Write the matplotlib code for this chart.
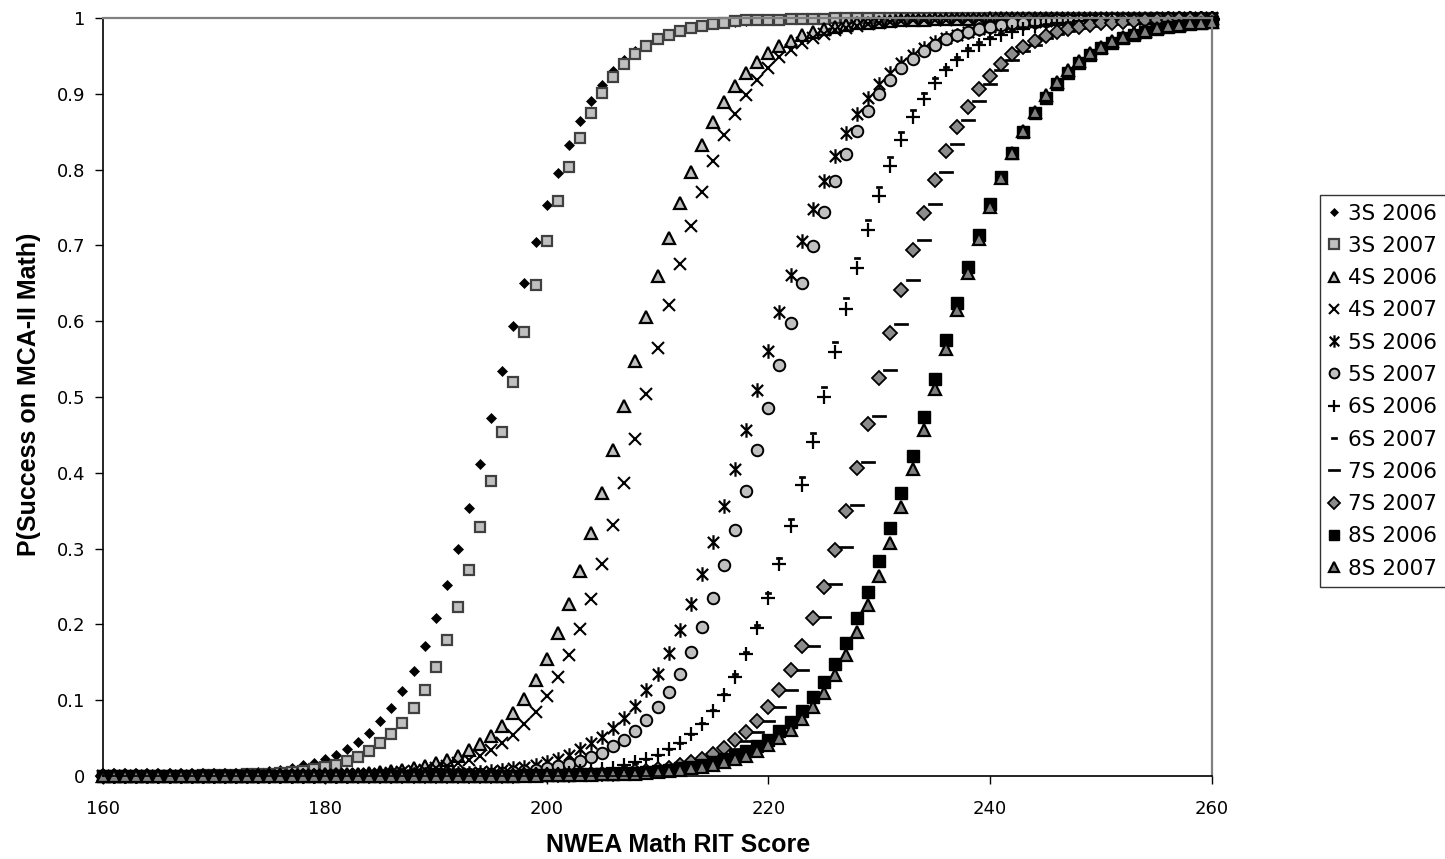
"""P(success on MCA-II Math) against NWEA Math RIT score, one curve per grade and year."""

import matplotlib
matplotlib.use("Agg")
import matplotlib.pyplot as plt
from matplotlib.path import Path

# ─────────────────────────────────────────────────────────────────────────────
# DATA (one point per RIT score)
# ─────────────────────────────────────────────────────────────────────────────

RIT_SCORES = list(range(160, 261))

SERIES_LABELS = ["3S 2006", "3S 2007", "4S 2006", "4S 2007", "5S 2006", "5S 2007",
                 "6S 2006", "6S 2007", "7S 2006", "7S 2007", "8S 2006", "8S 2007"]

P_3S_2006 = [
    0, 0, 0, 0, 0, 0.001, 0.001, 0.001, 0.001, 0.002, 0.002, 0.002, 0.003, 0.004, 0.005, 0.007, 0.008, 0.011, 0.014, 0.017,
    0.022, 0.028, 0.036, 0.045, 0.057, 0.072, 0.090, 0.112, 0.139, 0.171, 0.208, 0.252, 0.300, 0.354, 0.412, 0.472, 0.534, 0.594, 0.651, 0.705,
    0.753, 0.796, 0.833, 0.864, 0.890, 0.912, 0.930, 0.944, 0.956, 0.965, 0.972, 0.978, 0.983, 0.987, 0.989, 0.992, 0.994, 0.995, 0.996, 0.997,
    0.998, 0.998, 0.999, 0.999, 0.999, 0.999, 0.999, 1, 1, 1, 1, 1, 1, 1, 1, 1, 1, 1, 1, 1,
    1, 1, 1, 1, 1, 1, 1, 1, 1, 1, 1, 1, 1, 1, 1, 1, 1, 1, 1, 1,
    1,
]
P_3S_2007 = [
    0, 0, 0, 0, 0, 0, 0, 0, 0, 0.001, 0.001, 0.001, 0.001, 0.002, 0.002, 0.003, 0.004, 0.005, 0.007, 0.009,
    0.012, 0.015, 0.020, 0.025, 0.033, 0.043, 0.055, 0.070, 0.090, 0.114, 0.144, 0.180, 0.223, 0.272, 0.328, 0.389, 0.454, 0.520, 0.586, 0.648,
    0.706, 0.758, 0.804, 0.842, 0.875, 0.901, 0.922, 0.939, 0.953, 0.963, 0.972, 0.978, 0.983, 0.987, 0.990, 0.992, 0.994, 0.996, 0.997, 0.997,
    0.998, 0.998, 0.999, 0.999, 0.999, 0.999, 1, 1, 1, 1, 1, 1, 1, 1, 1, 1, 1, 1, 1, 1,
    1, 1, 1, 1, 1, 1, 1, 1, 1, 1, 1, 1, 1, 1, 1, 1, 1, 1, 1, 1,
    1,
]
P_4S_2006 = [
    0, 0, 0, 0, 0, 0, 0, 0, 0, 0, 0, 0, 0, 0, 0, 0.001, 0.001, 0.001, 0.001, 0.001,
    0.002, 0.002, 0.003, 0.003, 0.004, 0.005, 0.007, 0.008, 0.011, 0.013, 0.017, 0.021, 0.027, 0.034, 0.042, 0.053, 0.066, 0.083, 0.102, 0.126,
    0.155, 0.188, 0.227, 0.271, 0.320, 0.373, 0.430, 0.488, 0.547, 0.605, 0.659, 0.710, 0.756, 0.797, 0.833, 0.863, 0.889, 0.910, 0.927, 0.942,
    0.954, 0.963, 0.970, 0.977, 0.981, 0.985, 0.988, 0.991, 0.993, 0.994, 0.995, 0.996, 0.997, 0.998, 0.998, 0.999, 0.999, 0.999, 0.999, 0.999,
    1, 1, 1, 1, 1, 1, 1, 1, 1, 1, 1, 1, 1, 1, 1, 1, 1, 1, 1, 1,
    1,
]
P_4S_2007 = [
    0, 0, 0, 0, 0, 0, 0, 0, 0, 0, 0, 0, 0, 0, 0, 0, 0, 0, 0.001, 0.001,
    0.001, 0.001, 0.002, 0.002, 0.003, 0.003, 0.004, 0.005, 0.007, 0.008, 0.011, 0.013, 0.017, 0.021, 0.027, 0.034, 0.043, 0.054, 0.068, 0.084,
    0.105, 0.130, 0.159, 0.194, 0.234, 0.280, 0.331, 0.386, 0.444, 0.504, 0.564, 0.622, 0.676, 0.726, 0.771, 0.811, 0.845, 0.874, 0.898, 0.918,
    0.934, 0.948, 0.958, 0.967, 0.974, 0.979, 0.984, 0.987, 0.990, 0.992, 0.994, 0.995, 0.996, 0.997, 0.998, 0.998, 0.998, 0.999, 0.999, 0.999,
    0.999, 1, 1, 1, 1, 1, 1, 1, 1, 1, 1, 1, 1, 1, 1, 1, 1, 1, 1, 1,
    1,
]
P_5S_2006 = [
    0, 0, 0, 0, 0, 0, 0, 0, 0, 0, 0, 0, 0, 0, 0, 0, 0, 0, 0, 0,
    0, 0, 0, 0.001, 0.001, 0.001, 0.001, 0.001, 0.002, 0.002, 0.002, 0.003, 0.004, 0.004, 0.005, 0.007, 0.008, 0.010, 0.012, 0.015,
    0.019, 0.023, 0.028, 0.035, 0.043, 0.052, 0.063, 0.077, 0.093, 0.113, 0.135, 0.162, 0.192, 0.227, 0.266, 0.309, 0.356, 0.405, 0.457, 0.509,
    0.561, 0.612, 0.661, 0.706, 0.748, 0.785, 0.818, 0.848, 0.873, 0.894, 0.913, 0.928, 0.941, 0.951, 0.960, 0.968, 0.974, 0.978, 0.982, 0.986,
    0.988, 0.991, 0.992, 0.994, 0.995, 0.996, 0.997, 0.997, 0.998, 0.998, 0.999, 0.999, 0.999, 0.999, 0.999, 0.999, 1, 1, 1, 1,
    1,
]
P_5S_2007 = [
    0, 0, 0, 0, 0, 0, 0, 0, 0, 0, 0, 0, 0, 0, 0, 0, 0, 0, 0, 0,
    0, 0, 0, 0, 0, 0, 0, 0.001, 0.001, 0.001, 0.001, 0.001, 0.002, 0.002, 0.003, 0.003, 0.004, 0.005, 0.007, 0.008,
    0.010, 0.013, 0.016, 0.020, 0.025, 0.031, 0.039, 0.048, 0.060, 0.074, 0.091, 0.111, 0.135, 0.164, 0.197, 0.235, 0.278, 0.325, 0.376, 0.430,
    0.486, 0.542, 0.597, 0.650, 0.699, 0.744, 0.785, 0.820, 0.851, 0.877, 0.900, 0.918, 0.934, 0.946, 0.957, 0.965, 0.972, 0.977, 0.982, 0.985,
    0.988, 0.991, 0.993, 0.994, 0.995, 0.996, 0.997, 0.998, 0.998, 0.998, 0.999, 0.999, 0.999, 0.999, 0.999, 1, 1, 1, 1, 1,
    1,
]
P_6S_2006 = [
    0, 0, 0, 0, 0, 0, 0, 0, 0, 0, 0, 0, 0, 0, 0, 0, 0, 0, 0, 0,
    0, 0, 0, 0, 0, 0, 0, 0, 0, 0, 0, 0, 0, 0.001, 0.001, 0.001, 0.001, 0.001, 0.002, 0.002,
    0.003, 0.003, 0.004, 0.006, 0.007, 0.009, 0.011, 0.014, 0.018, 0.022, 0.028, 0.035, 0.044, 0.056, 0.069, 0.086, 0.107, 0.131, 0.161, 0.195,
    0.235, 0.280, 0.330, 0.384, 0.441, 0.500, 0.559, 0.616, 0.670, 0.720, 0.765, 0.805, 0.839, 0.869, 0.893, 0.914, 0.931, 0.944, 0.956, 0.965,
    0.972, 0.978, 0.982, 0.986, 0.989, 0.991, 0.993, 0.994, 0.996, 0.997, 0.997, 0.998, 0.998, 0.999, 0.999, 0.999, 0.999, 0.999, 1, 1,
    1,
]
P_6S_2007 = [
    0, 0, 0, 0, 0, 0, 0, 0, 0, 0, 0, 0, 0, 0, 0, 0, 0, 0, 0, 0,
    0, 0, 0, 0, 0, 0, 0, 0, 0, 0, 0, 0, 0, 0, 0.001, 0.001, 0.001, 0.001, 0.002, 0.002,
    0.003, 0.003, 0.004, 0.005, 0.007, 0.009, 0.011, 0.014, 0.017, 0.022, 0.028, 0.035, 0.044, 0.056, 0.070, 0.087, 0.108, 0.134, 0.164, 0.199,
    0.241, 0.287, 0.339, 0.394, 0.453, 0.513, 0.572, 0.630, 0.684, 0.733, 0.777, 0.816, 0.849, 0.878, 0.901, 0.921, 0.936, 0.949, 0.960, 0.968,
    0.975, 0.980, 0.984, 0.988, 0.990, 0.992, 0.994, 0.995, 0.996, 0.997, 0.998, 0.998, 0.999, 0.999, 0.999, 0.999, 0.999, 1, 1, 1,
    1,
]
P_7S_2006 = [
    0, 0, 0, 0, 0, 0, 0, 0, 0, 0, 0, 0, 0, 0, 0, 0, 0, 0, 0, 0,
    0, 0, 0, 0, 0, 0, 0, 0, 0, 0, 0, 0, 0, 0, 0, 0, 0, 0, 0, 0,
    0.001, 0.001, 0.001, 0.001, 0.002, 0.002, 0.003, 0.003, 0.004, 0.005, 0.007, 0.009, 0.011, 0.014, 0.018, 0.022, 0.028, 0.036, 0.046, 0.058,
    0.072, 0.091, 0.113, 0.140, 0.172, 0.210, 0.253, 0.302, 0.357, 0.414, 0.475, 0.536, 0.596, 0.654, 0.707, 0.755, 0.797, 0.834, 0.865, 0.891,
    0.913, 0.931, 0.945, 0.956, 0.965, 0.973, 0.979, 0.983, 0.987, 0.990, 0.992, 0.994, 0.995, 0.996, 0.997, 0.998, 0.998, 0.999, 0.999, 0.999,
    0.999,
]
P_7S_2007 = [
    0, 0, 0, 0, 0, 0, 0, 0, 0, 0, 0, 0, 0, 0, 0, 0, 0, 0, 0, 0,
    0, 0, 0, 0, 0, 0, 0, 0, 0, 0, 0, 0, 0, 0, 0, 0, 0, 0, 0.001, 0.001,
    0.001, 0.001, 0.001, 0.002, 0.002, 0.003, 0.003, 0.004, 0.006, 0.007, 0.009, 0.011, 0.014, 0.018, 0.023, 0.029, 0.037, 0.047, 0.058, 0.073,
    0.091, 0.113, 0.140, 0.171, 0.208, 0.250, 0.298, 0.350, 0.406, 0.465, 0.525, 0.584, 0.641, 0.694, 0.743, 0.786, 0.824, 0.856, 0.883, 0.906,
    0.924, 0.939, 0.952, 0.962, 0.970, 0.976, 0.981, 0.985, 0.988, 0.991, 0.993, 0.994, 0.995, 0.996, 0.997, 0.998, 0.998, 0.999, 0.999, 0.999,
    0.999,
]
P_8S_2006 = [
    0, 0, 0, 0, 0, 0, 0, 0, 0, 0, 0, 0, 0, 0, 0, 0, 0, 0, 0, 0,
    0, 0, 0, 0, 0, 0, 0, 0, 0, 0, 0, 0, 0, 0, 0, 0, 0, 0, 0.001, 0.001,
    0.001, 0.001, 0.001, 0.002, 0.002, 0.002, 0.003, 0.004, 0.004, 0.005, 0.007, 0.008, 0.010, 0.012, 0.015, 0.018, 0.022, 0.027, 0.033, 0.040,
    0.048, 0.059, 0.071, 0.086, 0.104, 0.124, 0.148, 0.176, 0.208, 0.243, 0.283, 0.327, 0.373, 0.422, 0.473, 0.524, 0.575, 0.624, 0.671, 0.714,
    0.754, 0.790, 0.822, 0.850, 0.875, 0.895, 0.913, 0.928, 0.941, 0.951, 0.960, 0.967, 0.973, 0.978, 0.982, 0.985, 0.988, 0.990, 0.992, 0.993,
    0.995,
]
P_8S_2007 = [
    0, 0, 0, 0, 0, 0, 0, 0, 0, 0, 0, 0, 0, 0, 0, 0, 0, 0, 0, 0,
    0, 0, 0, 0, 0, 0, 0, 0, 0, 0, 0, 0, 0, 0, 0, 0, 0, 0, 0, 0,
    0.001, 0.001, 0.001, 0.001, 0.001, 0.002, 0.002, 0.003, 0.003, 0.004, 0.005, 0.006, 0.008, 0.010, 0.012, 0.014, 0.018, 0.022, 0.027, 0.033,
    0.041, 0.050, 0.061, 0.075, 0.091, 0.110, 0.133, 0.159, 0.190, 0.225, 0.264, 0.308, 0.355, 0.405, 0.457, 0.510, 0.563, 0.615, 0.664, 0.709,
    0.751, 0.789, 0.822, 0.851, 0.876, 0.898, 0.916, 0.931, 0.943, 0.954, 0.962, 0.969, 0.975, 0.980, 0.983, 0.987, 0.989, 0.991, 0.993, 0.994,
    0.995,
]

SERIES_VALUES = [P_3S_2006, P_3S_2007, P_4S_2006, P_4S_2007, P_5S_2006, P_5S_2007,
                 P_6S_2006, P_6S_2007, P_7S_2006, P_7S_2007, P_8S_2006, P_8S_2007]

X_TICKS = [160, 180, 200, 220, 240, 260]
Y_TICKS = [0, 0.1, 0.2, 0.3, 0.4, 0.5, 0.6, 0.7, 0.8, 0.9, 1]
Y_TICK_LABELS = ["0", "0.1", "0.2", "0.3", "0.4", "0.5", "0.6", "0.7", "0.8", "0.9", "1"]

# ─────────────────────────────────────────────────────────────────────────────
# MARKER STYLES (Excel-like greyscale markers)
# ─────────────────────────────────────────────────────────────────────────────

# Excel's "star" marker: an x with a vertical bar through it
ASTERISK = Path([(-1, -1), (1, 1), (-1, 1), (1, -1), (0, -1.3), (0, 1.3)],
                [Path.MOVETO, Path.LINETO] * 3)
SHORT_DASH = [(-1, -0.4), (1, -0.4), (1, 0.4), (-1, 0.4), (-1, -0.4)]
LONG_DASH = [(-1, -0.13), (1, -0.13), (1, 0.13), (-1, 0.13), (-1, -0.13)]

LIGHT_GREY = "#c0c0c0"
MID_GREY = "#8c8c8c"

MARKER_STYLES = [
    dict(marker="D", ms=4.8, mfc="black", mec="black", mew=0.5),
    dict(marker="s", ms=7.8, mfc=LIGHT_GREY, mec="#404040", mew=1.6),
    dict(marker="^", ms=9, mfc=LIGHT_GREY, mec="black", mew=1.6),
    dict(marker="x", ms=8.5, mfc="none", mec="black", mew=1.5),
    dict(marker=ASTERISK, ms=10.5, mfc="none", mec="black", mew=1.6),
    dict(marker="o", ms=8.3, mfc=LIGHT_GREY, mec="black", mew=1.4),
    dict(marker="+", ms=9.5, mfc="none", mec="black", mew=1.6),
    dict(marker=SHORT_DASH, ms=5, mfc="black", mec="black", mew=0.5),
    dict(marker=LONG_DASH, ms=9.5, mfc="black", mec="black", mew=0.5),
    dict(marker="D", ms=6.8, mfc=MID_GREY, mec="black", mew=1.3),
    dict(marker="s", ms=8.3, mfc="black", mec="black", mew=1),
    dict(marker="^", ms=9, mfc="#808080", mec="black", mew=1.6),
]

# ─────────────────────────────────────────────────────────────────────────────
# FIGURE
# ─────────────────────────────────────────────────────────────────────────────

FIG_W, FIG_H = 1445, 859

fig = plt.figure(figsize=(FIG_W / 100, FIG_H / 100), dpi=100)
# plot area spans x 103..1212 px and y 18..776 px of the original
ax = fig.add_axes([103 / FIG_W, 83 / FIG_H, 1109 / FIG_W, 758 / FIG_H])

for label, values, style in zip(SERIES_LABELS, SERIES_VALUES, MARKER_STYLES):
    assert len(values) == len(RIT_SCORES), label
    ax.plot(RIT_SCORES, values, ls="none", label=label, clip_on=False, **style)

ax.set_xlim(160, 260)
ax.set_ylim(0, 1)
ax.set_xticks(X_TICKS)
ax.set_yticks(Y_TICKS)
ax.set_yticklabels(Y_TICK_LABELS)
ax.tick_params(axis="both", direction="out", length=6, width=1, labelsize=13,
               colors="black")
ax.tick_params(axis="x", pad=11)
ax.tick_params(axis="y", pad=7)
for side in ("left", "bottom"):
    ax.spines[side].set_color("black")
    ax.spines[side].set_linewidth(1.2)
for side in ("top", "right"):
    ax.spines[side].set_color("#808080")
    ax.spines[side].set_linewidth(1.6)

fig.text(678 / FIG_W, 14 / FIG_H, "NWEA Math RIT Score", ha="center", va="center",
         family="Liberation Sans", weight="bold", fontsize=18)
fig.text(29 / FIG_W, 1 - 394 / FIG_H, "P(Success on MCA-II Math)", ha="center",
         va="center", rotation=90, family="Liberation Sans", weight="bold",
         fontsize=18)

legend = fig.legend(loc="upper left", bbox_to_anchor=(1320 / FIG_W, 1 - 195 / FIG_H),
                    fontsize=15.5, frameon=True, fancybox=False, edgecolor="black",
                    handlelength=0.5, handletextpad=0.4, labelspacing=0.57,
                    borderpad=0.4, borderaxespad=0, markerscale=0.85)
legend.get_frame().set_linewidth(1.0)

fig.savefig("out.png", dpi=100)
